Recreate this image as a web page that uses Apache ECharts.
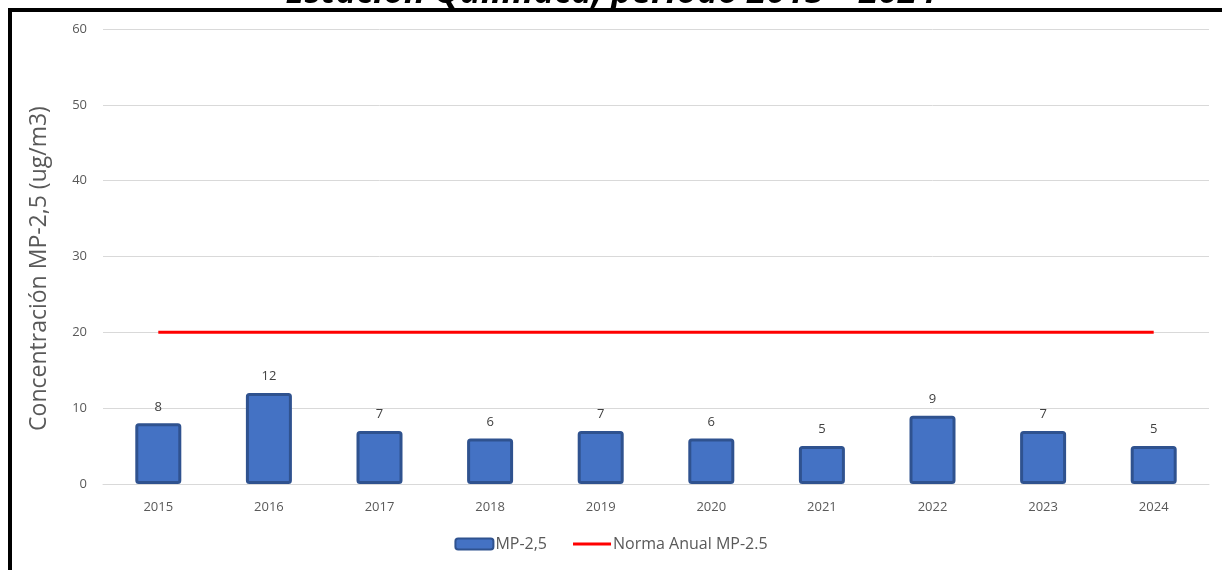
<!DOCTYPE html>
<html>
<head>
<meta charset="utf-8">
<script src="https://cdn.jsdelivr.net/npm/echarts@6/dist/echarts.min.js"></script>
<style>
  html, body { margin: 0; padding: 0; background: #fff; }
  #chart { width: 1222px; height: 570px; }
</style>
</head>
<body>
<div id="chart"></div>
<script>
  var years = ['2015', '2016', '2017', '2018', '2019', '2020', '2021', '2022', '2023', '2024'];
  var mp25 = [8, 12, 7, 6, 7, 6, 5, 9, 7, 5];
  var norma = [20, 20, 20, 20, 20, 20, 20, 20, 20, 20];
  var yTicks = [0, 10, 20, 30, 40, 50, 60];

  var myChart = echarts.init(document.getElementById('chart'));
  var font = 'Open Sans';

  myChart.setOption({
    animation: false,
    graphic: [
      {
        type: 'text',
        left: 'center',
        top: -24,
        style: {
          text: 'Estación Quilmaca, periodo 2015 – 2024',
          font: 'italic bold 35px "Open Sans"',
          fill: '#000'
        }
      },
      { type: 'rect', shape: { x: 8, y: 8, width: 1214, height: 4 }, style: { fill: '#000' } },
      { type: 'rect', shape: { x: 8, y: 8, width: 4, height: 562 }, style: { fill: '#000' } }
    ],
    grid: {
      left: 103,
      right: 13,
      top: 29,
      bottom: 86,
      containLabel: false
    },
    legend: {
      bottom: 13,
      left: 'center',
      itemGap: 26,
      itemWidth: 38,
      itemHeight: 11,
      textStyle: { color: '#595959', fontSize: 16, fontFamily: font, padding: [0, 0, 0, -3] },
      data: [
        { name: 'MP-2,5', icon: 'roundRect' },
        { name: 'Norma Anual MP-2.5', icon: 'path://M0,0 L38,0 L38,3 L0,3 Z', itemStyle: { color: '#FF0000' } }
      ]
    },
    xAxis: {
      type: 'category',
      data: years,
      axisLine: { show: true, lineStyle: { color: '#d9d9d9', width: 1 } },
      axisTick: { show: false },
      axisLabel: { color: '#595959', fontSize: 13, fontFamily: font, margin: 17 }
    },
    yAxis: {
      type: 'value',
      min: yTicks[0],
      max: yTicks[yTicks.length - 1],
      interval: 10,
      name: 'Concentración MP-2,5 (ug/m3)',
      nameLocation: 'middle',
      nameGap: 52,
      nameTextStyle: { color: '#595959', fontSize: 23, fontFamily: font, padding: [0, 24, 0, 0] },
      axisLine: { show: false },
      axisTick: { show: false },
      axisLabel: { color: '#595959', fontSize: 13, fontFamily: font, margin: 16 },
      splitLine: { lineStyle: { color: '#d9d9d9', width: 1 } }
    },
    series: [
      {
        name: 'MP-2,5',
        type: 'bar',
        data: mp25,
        barWidth: 46,
        itemStyle: {
          color: '#4472C4',
          borderColor: '#2F528F',
          borderWidth: 3,
          borderRadius: 2
        },
        label: {
          show: true,
          position: 'top',
          distance: 10,
          color: '#404040',
          fontSize: 13,
          fontFamily: font
        },
        z: 2
      },
      {
        name: 'Norma Anual MP-2.5',
        type: 'line',
        data: norma,
        symbol: 'none',
        lineStyle: { color: '#FF0000', width: 3 },
        itemStyle: { color: '#FF0000' },
        z: 3
      }
    ]
  });
</script>
</body>
</html>
